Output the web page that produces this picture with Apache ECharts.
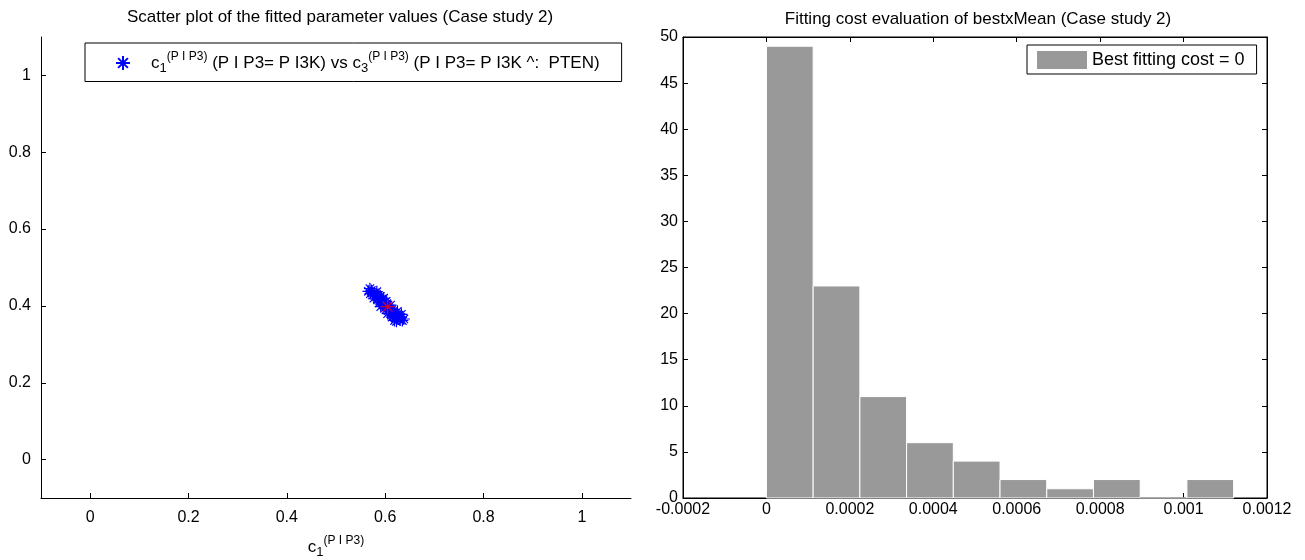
<!DOCTYPE html>
<html>
<head>
<meta charset="utf-8">
<script src="https://cdn.jsdelivr.net/npm/echarts@6/dist/echarts.min.js"></script>
<style>
  html, body { margin: 0; padding: 0; background: #fff; }
  #main { width: 1305px; height: 560px; }
</style>
</head>
<body>
<div id="main"></div>
<script>
// left panel: fitted parameter pairs (c1, c3)
const c1Values = [0.566, 0.570, 0.572, 0.575, 0.578, 0.580, 0.582, 0.584, 0.585, 0.587,
  0.589, 0.590, 0.592, 0.593, 0.595, 0.596, 0.598, 0.599, 0.600, 0.601,
  0.603, 0.604, 0.606, 0.607, 0.609, 0.610, 0.612, 0.613, 0.615, 0.616,
  0.618, 0.620, 0.622, 0.624, 0.626, 0.628, 0.630, 0.632, 0.635, 0.638,
  0.577, 0.583, 0.591, 0.597, 0.605, 0.611, 0.619, 0.625, 0.569, 0.588,
  0.602, 0.614, 0.623, 0.633]
const c3Values = [0.438, 0.432, 0.440, 0.428, 0.434, 0.424, 0.430, 0.418, 0.426, 0.421,
  0.414, 0.425, 0.409, 0.418, 0.404, 0.413, 0.400, 0.408, 0.396, 0.404,
  0.392, 0.400, 0.388, 0.396, 0.385, 0.392, 0.380, 0.389, 0.377, 0.385,
  0.374, 0.381, 0.370, 0.377, 0.367, 0.373, 0.364, 0.370, 0.362, 0.366,
  0.420, 0.437, 0.398, 0.420, 0.380, 0.402, 0.362, 0.386, 0.445, 0.408,
  0.412, 0.371, 0.360, 0.378]
const meanPoint = [0.605, 0.398]
const leftTicks = [0, 0.2, 0.4, 0.6, 0.8, 1]

// right panel: histogram of the fitting cost
const binEdges = [0, 0.000112, 0.000224, 0.000336, 0.000448, 0.00056, 0.000672, 0.000784, 0.000896, 0.001008, 0.00112]
const binCounts = [49, 23, 11, 6, 4, 2, 1, 2, 0, 2]
const costTicks = [-0.0002, 0, 0.0002, 0.0004, 0.0006, 0.0008, 0.001, 0.0012]
const costTickLabels = ['-0.0002', '0', '0.0002', '0.0004', '0.0006', '0.0008', '0.001', '0.0012']
const countTicks = [0, 5, 10, 15, 20, 25, 30, 35, 40, 45, 50]

const FONT = 'Liberation Sans, Arial, sans-serif'
const ASTERISK = 'path://M0,-10L0,10M-10,0L10,0M-7,-7L7,7M-7,7L7,-7'
const subSup = {
  c: { fontSize: 17, fontFamily: FONT, color: '#000' },
  sub: { fontSize: 13, fontFamily: FONT, color: '#000', padding: [10, 0, 0, 0] },
  sup: { fontSize: 12, fontFamily: FONT, color: '#000', padding: [0, 0, 12, 0] }
}

const chart = echarts.init(document.getElementById('main'))

// 刻度朝内，和原图一样
const tickIn = { show: true, inside: true, length: 5, lineStyle: { color: '#000' } }
const lineBlack = { show: true, onZero: false, lineStyle: { color: '#000' } }
const labelStyle = { fontSize: 16, fontFamily: FONT, color: '#000' }
const titleStyle = { fontSize: 17, fontWeight: 'normal', fontFamily: FONT, color: '#000' }

const option = {
  animation: false,
  backgroundColor: '#fff',
  title: [
    {
      text: 'Scatter plot of the fitted parameter values (Case study 2)',
      left: 335, top: 4, textAlign: 'center',
      textStyle: titleStyle
    },
    {
      text: 'Fitting cost evaluation of bestxMean (Case study 2)',
      left: 973, top: 6, textAlign: 'center',
      textStyle: titleStyle
    }
  ],
  legend: [
    {
      data: [{ name: 'pairs', icon: ASTERISK }],
      left: 85, top: 43,
      padding: [8, 22, 7, 30],
      itemWidth: 14, itemHeight: 14,
      borderColor: '#000', borderWidth: 1,
      selectedMode: false,
      formatter: () => '{c|c}{sub|1}{sup|(P I P3)} (P I P3= P I3K) vs {c|c}{sub|3}{sup|(P I P3)} (P I P3= P I3K ^:  PTEN)',
      textStyle: { fontSize: 17, fontFamily: FONT, color: '#000', padding: [0, 0, 0, 16], rich: subSup }
    },
    {
      data: ['Best fitting cost = 0'],
      left: 1027, top: 45,
      padding: [6, 12, 5, 10],
      icon: 'rect', itemWidth: 50, itemHeight: 18, itemGap: 5,
      borderColor: '#000', borderWidth: 1,
      selectedMode: false,
      textStyle: { fontSize: 18, fontFamily: FONT, color: '#000' }
    }
  ],
  grid: [
    { left: 41, top: 37, width: 590, height: 461, outerBoundsMode: 'none' },
    { left: 683, top: 37, width: 584, height: 461, outerBoundsMode: 'none', show: true, borderColor: '#000', borderWidth: 1 }
  ],
  xAxis: [
    {
      gridIndex: 0, type: 'value', min: -0.1, max: 1.1,
      splitLine: { show: false },
      axisLine: lineBlack,
      axisTick: { ...tickIn, customValues: leftTicks },
      axisLabel: { ...labelStyle, margin: 12, customValues: leftTicks },
      name: '{c|c}{sub|1}{sup|(P I P3)}',
      nameLocation: 'middle', nameGap: 37,
      nameTextStyle: { rich: subSup }
    },
    {
      gridIndex: 1, type: 'value', min: -0.0002, max: 0.0012,
      splitLine: { show: false },
      axisLine: lineBlack,
      axisTick: { ...tickIn, customValues: costTicks },
      axisLabel: {
        ...labelStyle, margin: 4, customValues: costTicks,
        formatter: (v) => costTickLabels[costTicks.findIndex(t => Math.abs(t - v) < 1e-9)]
      }
    },
    {
      gridIndex: 1, type: 'value', position: 'top', min: -0.0002, max: 0.0012,
      splitLine: { show: false },
      axisLine: lineBlack,
      axisTick: { ...tickIn, customValues: costTicks },
      axisLabel: { show: false }
    }
  ],
  yAxis: [
    {
      gridIndex: 0, type: 'value', min: -0.1, max: 1.1,
      splitLine: { show: false },
      axisLine: lineBlack,
      axisTick: { ...tickIn, customValues: leftTicks },
      axisLabel: { ...labelStyle, margin: 10, customValues: leftTicks }
    },
    {
      gridIndex: 1, type: 'value', min: 0, max: 50,
      splitLine: { show: false },
      axisLine: lineBlack,
      axisTick: { ...tickIn, customValues: countTicks },
      axisLabel: { ...labelStyle, margin: 5, customValues: countTicks }
    },
    {
      gridIndex: 1, type: 'value', position: 'right', min: 0, max: 50,
      splitLine: { show: false },
      axisLine: lineBlack,
      axisTick: { ...tickIn, customValues: countTicks },
      axisLabel: { show: false }
    }
  ],
  series: [
    {
      name: 'pairs',
      type: 'scatter',
      xAxisIndex: 0, yAxisIndex: 0,
      symbol: ASTERISK, symbolSize: 12,
      itemStyle: { color: 'rgba(0,0,0,0)', borderColor: '#0000ff', borderWidth: 1.2, opacity: 1 },
      data: c1Values.map((x, i) => [x, c3Values[i]])
    },
    {
      name: 'mean',
      type: 'scatter',
      xAxisIndex: 0, yAxisIndex: 0,
      symbol: ASTERISK, symbolSize: 14, z: 3,
      itemStyle: { color: 'rgba(0,0,0,0)', borderColor: '#ff0000', borderWidth: 1.2 },
      data: [meanPoint]
    },
    {
      name: 'Best fitting cost = 0',
      type: 'custom',
      xAxisIndex: 1, yAxisIndex: 1,
      itemStyle: { color: '#999999' },
      encode: { x: [0, 1], y: 2 },
      data: binCounts.map((c, i) => [binEdges[i], binEdges[i + 1], c]),
      renderItem: (params, api) => {
        const top = api.coord([api.value(0), api.value(2)])
        const bottom = api.coord([api.value(1), 0])
        return {
          type: 'rect',
          shape: { x: top[0], y: top[1], width: bottom[0] - top[0], height: bottom[1] - top[1] },
          style: { fill: '#999999', stroke: api.value(2) === 0 ? '#bbbbbb' : '#ffffff', lineWidth: 1 }
        }
      }
    }
  ]
}
chart.setOption(option)
</script>
</body>
</html>
